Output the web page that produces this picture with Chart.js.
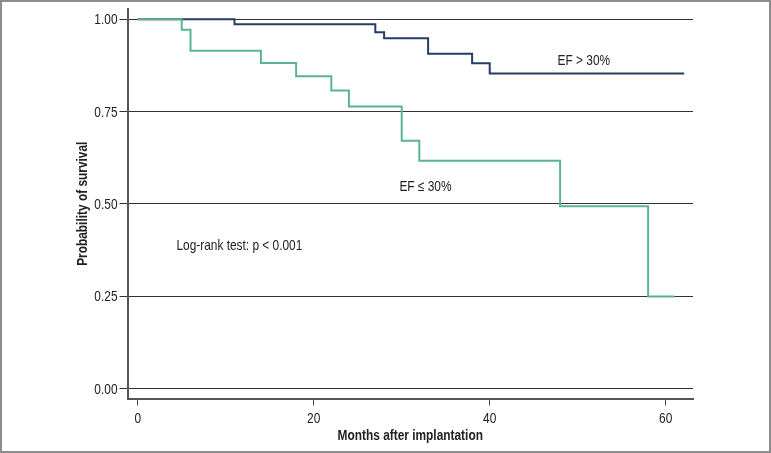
<!DOCTYPE html>
<html>
<head>
<meta charset="utf-8">
<script src="https://cdn.jsdelivr.net/npm/chart.js@4.4.0/dist/chart.umd.min.js"></script>
<style>
	body { margin: 0; background: #fff; }
</style>
</head>
<body>
<canvas id="kmChart" width="771" height="453"></canvas>
<script>
// curvas de sobrevida (Kaplan-Meier)
const monthsHigh = [0, 11, 27, 28, 33, 38, 40, 62.1];
const survivalHigh = [1, 0.987, 0.965, 0.949, 0.907, 0.881, 0.853, 0.853];
const monthsLow = [0, 5, 6, 14, 18, 22, 24, 30, 32, 48, 58, 61];
const survivalLow = [1, 0.972, 0.915, 0.882, 0.846, 0.807, 0.764, 0.671, 0.617, 0.494, 0.249, 0.249];
const seriesNames = ["EF > 30%", "EF ≤ 30%"];
const xTicks = [0, 20, 40, 60];
const yTicks = [0, 0.25, 0.5, 0.75, 1];
const xTitle = "Months after implantation";
const yTitle = "Probability of survival";

// textos dentro do grafico (em unidades dos eixos, linha de base)
const notes = [
	{ text: "EF > 30%", x: 50.7, y: 0.875, align: "center" },
	{ text: "EF ≤ 30%", x: 32.7, y: 0.535, align: "center" },
	{ text: "Log-rank test: p < 0.001", x: 4.4, y: 0.375, align: "left" }
];

// fonte estreita: Liberation Sans comprimida na horizontal
const FONT = "'Liberation Sans', Arial, sans-serif";
const SQUEEZE = 0.82;

function narrowText(ctx, text, x, y, align, bold, rotate) {
	ctx.save();
	ctx.translate(x, y);
	if (rotate) ctx.rotate(rotate);
	ctx.scale(SQUEEZE, 1);
	ctx.font = (bold ? "bold " : "") + "14.5px " + FONT;
	ctx.textAlign = align;
	ctx.textBaseline = "alphabetic";
	ctx.fillStyle = "#222";
	ctx.fillText(text, 0, 0);
	ctx.restore();
}

const toPoints = (xs, ys) => xs.map((m, i) => ({ x: m, y: ys[i] }));

const extras = {
	id: "extras",
	afterDatasetsDraw(chart) {
		const ctx = chart.ctx;
		const { x, y } = chart.scales;
		const area = chart.chartArea;
		notes.forEach(n => {
			narrowText(ctx, n.text, x.getPixelForValue(n.x), y.getPixelForValue(n.y), n.align, false);
		});
		yTicks.forEach(v => {
			narrowText(ctx, v.toFixed(2), area.left - 10, y.getPixelForValue(v) + 5, "right", false);
		});
		xTicks.forEach(v => {
			narrowText(ctx, String(v), x.getPixelForValue(v), area.bottom + 24, "center", false);
		});
		narrowText(ctx, xTitle, (area.left + area.right) / 2, area.bottom + 41, "center", true);
		narrowText(ctx, yTitle, 87, (area.top + area.bottom) / 2, "center", true, -Math.PI / 2);
	},
	afterDraw(chart) {
		// moldura cinza da figura
		const ctx = chart.ctx;
		ctx.save();
		ctx.strokeStyle = "#8c8c8c";
		ctx.lineWidth = 2;
		ctx.strokeRect(1, 1, chart.width - 2, chart.height - 2);
		ctx.restore();
	}
};

const ctx = document.getElementById("kmChart").getContext("2d");
const myChart = new Chart(ctx, {
	type: "line",
	data: {
		datasets: [{
			label: seriesNames[1],
			data: toPoints(monthsLow, survivalLow),
			borderColor: "#5ab491",
			borderWidth: 2,
			stepped: true,
			pointRadius: 0,
			fill: false
		}, {
			label: seriesNames[0],
			data: toPoints(monthsHigh, survivalHigh),
			borderColor: "#243c66",
			borderWidth: 2,
			stepped: true,
			pointRadius: 0,
			fill: false
		}]
	},
	options: {
		responsive: false,
		animation: false,
		layout: { padding: { left: 0, top: 9, right: 78, bottom: 0 } },
		plugins: {
			legend: { display: false },
			tooltip: { enabled: false }
		},
		scales: {
			x: {
				type: "linear",
				min: -1.16,
				max: 63.1,
				afterBuildTicks: s => { s.ticks = xTicks.map(v => ({ value: v })); },
				afterFit: s => { s.height = 54.5; },
				grid: { drawOnChartArea: false, drawTicks: true, tickLength: 7, color: "#444", lineWidth: 1 },
				border: { display: true, color: "#555", width: 2 },
				ticks: { display: false }
			},
			y: {
				type: "linear",
				min: -0.027,
				max: 1.028,
				afterBuildTicks: s => { s.ticks = yTicks.map(v => ({ value: v })); },
				afterFit: s => { s.width = 127.5; },
				grid: { drawOnChartArea: true, drawTicks: true, tickLength: 8, color: "#333", lineWidth: 1 },
				border: { display: true, color: "#555", width: 2 },
				ticks: { display: false }
			}
		}
	},
	plugins: [extras]
});
</script>
</body>
</html>
